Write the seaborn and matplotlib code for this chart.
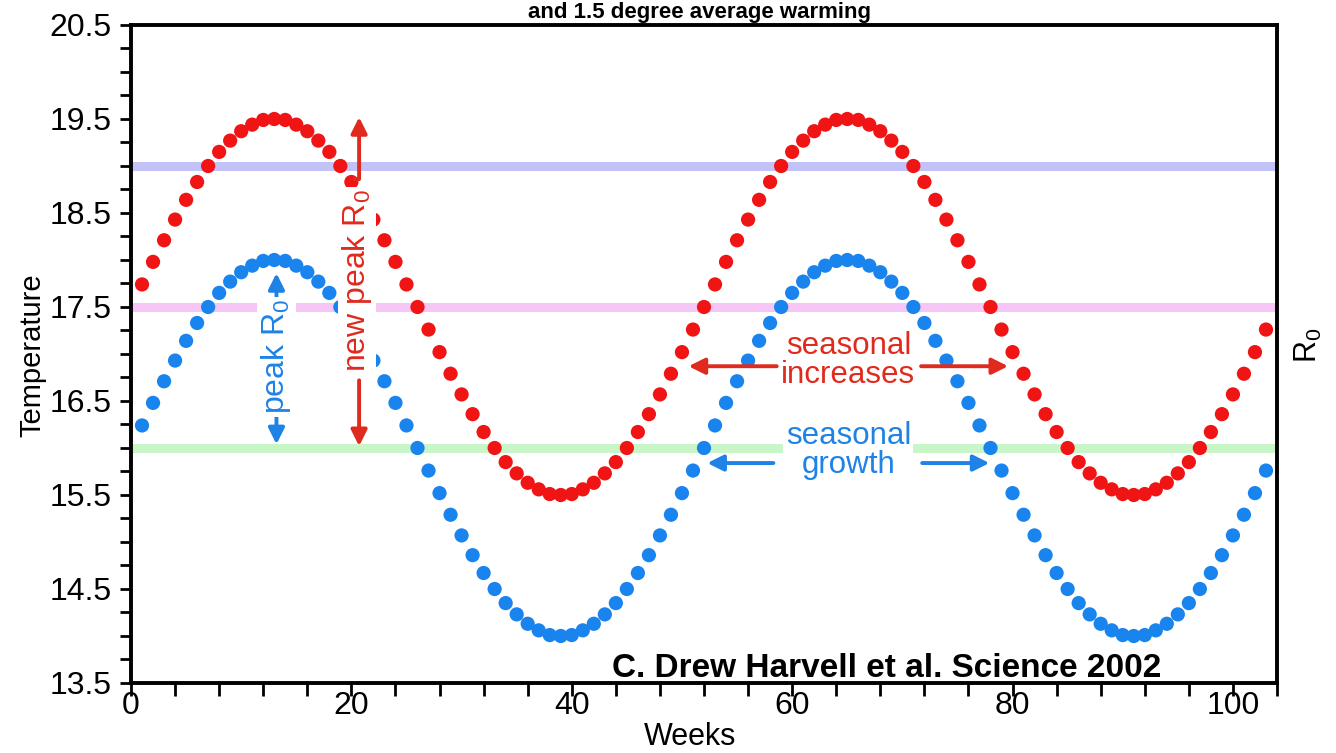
import matplotlib
matplotlib.use('Agg')
import matplotlib.pyplot as plt
import numpy as np
import pandas as pd
import seaborn as sns
from matplotlib.ticker import MultipleLocator, FixedLocator

# ---------------- data ----------------
weeks = list(range(1, 104))

red_temp = [
    17.74, 17.98, 18.21, 18.43, 18.64, 18.83, 19.00, 19.15, 19.27, 19.37, 19.44, 19.49, 19.50,
    19.49, 19.44, 19.37, 19.27, 19.15, 19.00, 18.83, 18.64, 18.43, 18.21, 17.98, 17.74, 17.50,
    17.26, 17.02, 16.79, 16.57, 16.36, 16.17, 16.00, 15.85, 15.73, 15.63, 15.56, 15.51, 15.50,
    15.51, 15.56, 15.63, 15.73, 15.85, 16.00, 16.17, 16.36, 16.57, 16.79, 17.02, 17.26, 17.50,
    17.74, 17.98, 18.21, 18.43, 18.64, 18.83, 19.00, 19.15, 19.27, 19.37, 19.44, 19.49, 19.50,
    19.49, 19.44, 19.37, 19.27, 19.15, 19.00, 18.83, 18.64, 18.43, 18.21, 17.98, 17.74, 17.50,
    17.26, 17.02, 16.79, 16.57, 16.36, 16.17, 16.00, 15.85, 15.73, 15.63, 15.56, 15.51, 15.50,
    15.51, 15.56, 15.63, 15.73, 15.85, 16.00, 16.17, 16.36, 16.57, 16.79, 17.02, 17.26,
]

blue_temp = [
    16.24, 16.48, 16.71, 16.93, 17.14, 17.33, 17.50, 17.65, 17.77, 17.87, 17.94, 17.99, 18.00,
    17.99, 17.94, 17.87, 17.77, 17.65, 17.50, 17.33, 17.14, 16.93, 16.71, 16.48, 16.24, 16.00,
    15.76, 15.52, 15.29, 15.07, 14.86, 14.67, 14.50, 14.35, 14.23, 14.13, 14.06, 14.01, 14.00,
    14.01, 14.06, 14.13, 14.23, 14.35, 14.50, 14.67, 14.86, 15.07, 15.29, 15.52, 15.76, 16.00,
    16.24, 16.48, 16.71, 16.93, 17.14, 17.33, 17.50, 17.65, 17.77, 17.87, 17.94, 17.99, 18.00,
    17.99, 17.94, 17.87, 17.77, 17.65, 17.50, 17.33, 17.14, 16.93, 16.71, 16.48, 16.24, 16.00,
    15.76, 15.52, 15.29, 15.07, 14.86, 14.67, 14.50, 14.35, 14.23, 14.13, 14.06, 14.01, 14.00,
    14.01, 14.06, 14.13, 14.23, 14.35, 14.50, 14.67, 14.86, 15.07, 15.29, 15.52, 15.76,
]

series_names = ['warmed', 'baseline']
series_colors = ['#f01414', '#1a84ee']

band_levels = [19.0, 17.5, 16.0]
band_colors = ['#c2c2f8', '#f6c6f6', '#c8f6c8']

x_ticks = [0, 20, 40, 60, 80, 100]
y_ticks = [13.5, 14.5, 15.5, 16.5, 17.5, 18.5, 19.5, 20.5]
y_tick_labels = ['13.5', '14.5', '15.5', '16.5', '17.5', '18.5', '19.5', '20.5']

red_txt = '#e02a1e'
blue_txt = '#1e82e6'

df = pd.DataFrame({
    'week': weeks + weeks,
    'temp': red_temp + blue_temp,
    'series': [series_names[0]] * len(weeks) + [series_names[1]] * len(weeks),
})

# ---------------- style ----------------
sns.set_theme(style='ticks')
plt.rcParams['font.family'] = ['Liberation Sans', 'DejaVu Sans']
plt.rcParams['mathtext.default'] = 'regular'
for k in ['text.color', 'axes.labelcolor', 'xtick.color', 'ytick.color',
          'axes.edgecolor']:
    plt.rcParams[k] = 'black'

fig = plt.figure(figsize=(13.36, 7.53), dpi=100)
ax = fig.add_axes([131 / 1336, 1 - 683 / 753, 1146 / 1336, 658 / 753])

for lvl, col in zip(band_levels, band_colors):
    ax.axhline(lvl, color=col, lw=6.5, zorder=1, solid_capstyle='butt')

sns.scatterplot(data=df, x='week', y='temp', hue='series',
                palette=dict(zip(series_names, series_colors)),
                s=105, edgecolor='none', linewidth=0, legend=False,
                ax=ax, zorder=2)

ax.set_xlim(0, 104)
ax.set_ylim(13.5, 20.5)
ax.xaxis.set_major_locator(FixedLocator(x_ticks))
ax.xaxis.set_minor_locator(MultipleLocator(4))
ax.yaxis.set_major_locator(FixedLocator(y_ticks))
ax.set_yticklabels(y_tick_labels)
ax.yaxis.set_minor_locator(MultipleLocator(0.25))

for sp in ax.spines.values():
    sp.set_visible(True)
    sp.set_linewidth(2.8)
    sp.set_color('black')

ax.tick_params(axis='both', which='both', direction='out', color='black',
               width=2, top=False, right=False)
ax.tick_params(axis='x', which='major', length=9, labelsize=23, pad=-3)
ax.tick_params(axis='x', which='minor', length=9)
ax.tick_params(axis='y', which='major', length=8, labelsize=23, pad=6)
ax.tick_params(axis='y', which='minor', length=8)

ax.set_xlabel('Weeks', fontsize=22)
ax.set_ylabel('Temperature', fontsize=21)
ax.xaxis.set_label_coords((690 - 131) / 1146, (683 - 722) / 658)
ax.yaxis.set_label_coords((46 - 131) / 1146, (683 - 355) / 658)

fig.text(1308 / 1336, 1 - 345 / 753, 'R$_0$', rotation=90, fontsize=22,
         ha='center', va='center', color='black')

# title (top edge of figure, as in the original)
fig.text(700 / 1336, 1 - 18 / 753, 'and 1.5 degree average warming',
         fontsize=16, fontweight='bold', ha='center', va='baseline')

# attribution
ax.text(68.6, 13.56, 'C. Drew Harvell et al. Science 2002', fontsize=24,
        fontweight='bold', ha='center', va='baseline', zorder=5)

box = dict(facecolor='white', edgecolor='none', pad=1.5)

def arrow(x0, y0, x1, y1, col):
    ax.annotate('', xy=(x1, y1), xytext=(x0, y0), zorder=4,
                arrowprops=dict(arrowstyle='-|>', color=col, lw=2.8,
                                mutation_scale=24, shrinkA=0, shrinkB=0))

# new peak R0 (red, vertical)
ax.text(20.5, 17.78, 'new peak R$_0$', rotation=90, fontsize=23, color=red_txt,
        ha='center', va='center', bbox=box, zorder=5)
arrow(20.7, 18.86, 20.7, 19.52, red_txt)
ax.plot([20.15, 20.7], [18.86, 18.86], color=red_txt, lw=2.8, zorder=4,
        solid_capstyle='butt')
arrow(20.7, 16.72, 20.7, 16.02, red_txt)

# peak R0 (blue, vertical)
ax.text(13.2, 16.97, 'peak R$_0$', rotation=90, fontsize=23, color=blue_txt,
        ha='center', va='center', bbox=box, zorder=5)
arrow(13.2, 17.60, 13.2, 17.86, blue_txt)
arrow(13.2, 16.36, 13.2, 16.04, blue_txt)

# seasonal increases (red, horizontal)
ax.text(65.1, 16.93, 'seasonal\nincreases', fontsize=22.5, color=red_txt,
        ha='center', va='center', linespacing=0.95, bbox=box, zorder=5)
arrow(58.6, 16.87, 50.6, 16.87, red_txt)
arrow(71.7, 16.87, 79.6, 16.87, red_txt)

# seasonal growth (blue, horizontal)
ax.text(65.1, 15.97, 'seasonal\ngrowth', fontsize=22.5, color=blue_txt,
        ha='center', va='center', linespacing=0.95, bbox=box, zorder=5)
arrow(58.3, 15.84, 52.3, 15.84, blue_txt)
arrow(71.8, 15.84, 77.9, 15.84, blue_txt)

fig.savefig('out.png', dpi=100)
